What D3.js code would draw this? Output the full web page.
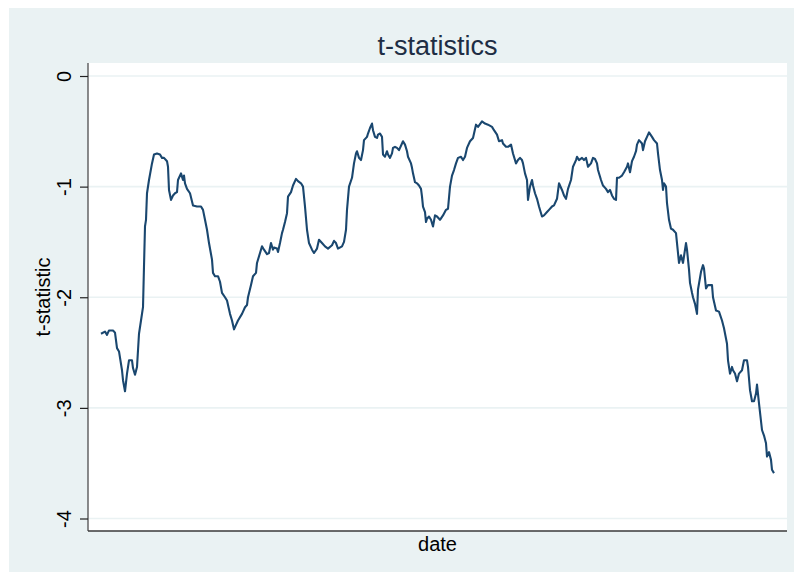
<!DOCTYPE html>
<html>
<head>
<meta charset="utf-8">
<script src="https://cdn.jsdelivr.net/npm/d3@7"></script>
<style>
  html, body { margin: 0; padding: 0; background: #ffffff; }
  svg { display: block; }
  text { font-family: "Liberation Sans", Arial, sans-serif; }
</style>
</head>
<body>
<svg id="chart" width="794" height="572"></svg>
<script>
// ---- data ----
const titleText = "t-statistics";
const xLabel = "date";
const yLabel = "t-statistic";
const yTicks = [0, -1, -2, -3, -4];
const yTickLabels = ["0", "-1", "-2", "-3", "-4"];

// observation index along the date axis
const obs = [
  0,4,6,8,12,14,16,18,21,22,24,26,28,31,32,34,36,38,40,42,43,44,45,46,48,51,53,56,59,61,63,66,67,68,70,72,74,76,77,80,82,83,84,86,89,92,96,100,102,104,106,108,111,112,114,117,119,121,124,126,129,131,133,135,137,141,144,146,147,150,152,155,156,159,161,163,166,168,170,172,173,176,177,179,181,182,184,186,187,190,192,195,197,200,202,204,206,208,211,213,216,218,221,224,227,231,233,235,237,241,243,245,246,248,
  251,253,255,256,258,260,262,263,266,267,269,271,272,274,276,277,279,281,282,284,286,287,289,291,292,294,296,298,301,302,304,306,307,310,311,312,314,316,318,320,321,322,324,325,326,328,330,332,334,336,339,342,345,347,349,351,353,355,357,360,362,364,366,369,372,375,377,381,384,387,391,393,396,398,
  401,402,405,407,410,412,415,417,419,421,422,424,426,427,429,431,432,434,436,438,441,443,446,448,451,453,456,458,461,463,465,467,470,472,475,476,478,481,483,485,487,490,492,494,496,497,500,502,505,507,509,511,513,515,516,518,521,523,526,527,529,531,533,535,536,538,541,542,544,546,548,
  551,553,556,557,559,561,562,563,565,566,568,570,572,575,576,577,578,580,582,583,585,586,588,589,591,592,594,596,597,600,602,603,605,607,611,612,615,618,621,623,626,627,629,631,632,634,636,638,641,643,646,647,649,651,653,655,656,658,661,663,665,666,668,670,671,673
];

// t-statistic values
const tstat = [
  -2.33,-2.31,-2.34,-2.30,-2.30,-2.32,-2.46,-2.49,-2.66,-2.75,-2.85,-2.69,-2.57,-2.57,-2.64,-2.70,-2.63,-2.33,-2.21,-2.09,-1.72,-1.36,-1.30,-1.06,-0.94,-0.79,-0.71,-0.70,-0.71,-0.74,-0.74,-0.77,-0.82,-1.03,-1.12,-1.08,-1.06,-1.05,-0.94,-0.88,-0.94,-0.90,-0.97,-1.02,-1.06,-1.17,-1.18,-1.18,-1.21,-1.30,-1.39,-1.51,-1.66,-1.78,-1.81,-1.81,-1.86,-1.96,-2.00,-2.03,-2.15,-2.21,-2.29,-2.25,-2.21,-2.15,-2.09,-2.07,-2.00,-1.89,-1.81,-1.78,-1.69,-1.60,-1.54,-1.57,-1.61,-1.60,-1.51,-1.57,-1.55,-1.56,-1.59,-1.51,-1.42,-1.39,-1.32,-1.24,-1.09,-1.05,-0.99,-0.93,-0.95,-0.97,-1.00,-1.18,-1.39,-1.51,-1.57,-1.60,-1.56,-1.48,-1.51,-1.54,-1.56,-1.53,-1.49,-1.51,-1.56,-1.54,-1.50,-1.39,-1.21,-1.00,
  -0.92,-0.79,-0.70,-0.68,-0.74,-0.76,-0.67,-0.58,-0.55,-0.52,-0.47,-0.43,-0.49,-0.55,-0.56,-0.53,-0.52,-0.55,-0.71,-0.73,-0.68,-0.71,-0.74,-0.70,-0.65,-0.64,-0.65,-0.67,-0.61,-0.59,-0.62,-0.68,-0.73,-0.79,-0.83,-0.88,-0.96,-0.97,-0.99,-1.02,-1.09,-1.18,-1.23,-1.32,-1.29,-1.27,-1.30,-1.36,-1.26,-1.27,-1.30,-1.26,-1.21,-1.20,-1.00,-0.90,-0.85,-0.79,-0.74,-0.73,-0.76,-0.73,-0.65,-0.59,-0.56,-0.44,-0.46,-0.41,-0.43,-0.44,-0.46,-0.49,-0.53,-0.59,
  -0.58,-0.61,-0.64,-0.64,-0.62,-0.70,-0.79,-0.76,-0.74,-0.76,-0.79,-0.88,-0.94,-1.12,-1.00,-0.94,-0.99,-1.06,-1.11,-1.18,-1.27,-1.26,-1.23,-1.21,-1.18,-1.17,-1.11,-0.97,-1.03,-1.08,-1.11,-1.02,-0.94,-0.82,-0.76,-0.73,-0.76,-0.74,-0.76,-0.74,-0.82,-0.79,-0.74,-0.75,-0.79,-0.85,-0.94,-0.99,-1.02,-1.05,-1.03,-1.08,-1.11,-1.12,-0.92,-0.92,-0.90,-0.87,-0.82,-0.79,-0.87,-0.77,-0.73,-0.68,-0.62,-0.58,-0.61,-0.67,-0.59,-0.55,-0.51,
  -0.55,-0.58,-0.61,-0.70,-0.85,-0.94,-1.03,-0.97,-1.00,-1.15,-1.30,-1.38,-1.39,-1.42,-1.51,-1.60,-1.69,-1.62,-1.69,-1.63,-1.51,-1.57,-1.75,-1.87,-1.96,-2.00,-2.06,-2.15,-1.93,-1.77,-1.71,-1.74,-1.92,-1.89,-1.89,-2.00,-2.12,-2.13,-2.21,-2.28,-2.42,-2.57,-2.69,-2.63,-2.66,-2.69,-2.76,-2.69,-2.66,-2.57,-2.57,-2.63,-2.84,-2.94,-2.94,-2.87,-2.79,-2.96,-3.20,-3.25,-3.32,-3.44,-3.40,-3.47,-3.56,-3.59
];

// ---- layout ----
const W = 794, H = 572;
const bg = { x: 9, y: 8, w: W - 9, h: H - 8 };
const plot = { left: 88, top: 63, right: 787, bottom: 531 };
const bgColor = "#eaf2f3";
const lineColor = "#1a476f";

const svg = d3.select("#chart");

svg.append("rect")
  .attr("x", bg.x).attr("y", bg.y)
  .attr("width", bg.w).attr("height", bg.h)
  .attr("fill", bgColor);

svg.append("rect")
  .attr("x", plot.left).attr("y", plot.top)
  .attr("width", plot.right - plot.left).attr("height", plot.bottom - plot.top)
  .attr("fill", "#ffffff");

const data = obs.map((o, i) => ({ o, v: tstat[i] }));

const x = d3.scaleLinear()
  .domain(d3.extent(obs))
  .range([plot.left + 13, plot.right - 13]);

const y = d3.scaleLinear()
  .domain([-4, 0])
  .range([plot.bottom - 12.5, plot.top + 13]);

// gridlines
svg.append("g")
  .selectAll("line")
  .data(yTicks)
  .join("line")
  .attr("x1", plot.left).attr("x2", plot.right)
  .attr("y1", d => y(d)).attr("y2", d => y(d))
  .attr("stroke", bgColor)
  .attr("stroke-width", 1.6);

// y axis
const yAxis = d3.axisLeft(y)
  .tickValues(yTicks)
  .tickFormat((d, i) => yTickLabels[i])
  .tickSize(8)
  .tickPadding(0);

const gy = svg.append("g")
  .attr("transform", `translate(${plot.left},0)`)
  .call(yAxis);
gy.select(".domain")
  .attr("d", `M0,${plot.top}V${plot.bottom}`)
  .attr("stroke", "#5a5a5a").attr("stroke-width", 1.4);
gy.selectAll(".tick line").attr("stroke", "#222").attr("stroke-width", 1.2);
gy.selectAll(".tick text")
  .attr("transform", "rotate(-90)")
  .attr("x", 0)
  .attr("y", -17)
  .attr("dy", 0)
  .attr("text-anchor", "middle")
  .attr("font-size", 20)
  .attr("font-family", "Liberation Sans, Arial, sans-serif")
  .attr("fill", "#000");

// x axis (no ticks)
const xAxis = d3.axisBottom(x).tickValues([]).tickSizeOuter(0);
const gx = svg.append("g")
  .attr("transform", `translate(0,${plot.bottom})`)
  .call(xAxis);
gx.select(".domain")
  .attr("d", `M${plot.left},0H${plot.right}`)
  .attr("stroke", "#3a3a3a").attr("stroke-width", 1.4);

// line
const line = d3.line()
  .x(d => x(d.o))
  .y(d => y(d.v));

svg.append("path")
  .datum(data)
  .attr("d", line)
  .attr("fill", "none")
  .attr("stroke", lineColor)
  .attr("stroke-width", 2.1)
  .attr("stroke-linejoin", "round");

// title
svg.append("text")
  .attr("x", (plot.left + plot.right) / 2)
  .attr("y", 55)
  .attr("text-anchor", "middle")
  .attr("font-size", 27)
  .attr("fill", "#1e2d44")
  .text(titleText);

// x label
svg.append("text")
  .attr("x", (plot.left + plot.right) / 2)
  .attr("y", 551)
  .attr("text-anchor", "middle")
  .attr("font-size", 20)
  .attr("fill", "#000")
  .text(xLabel);

// y label
svg.append("text")
  .attr("transform", `translate(50,${(plot.top + plot.bottom) / 2}) rotate(-90)`)
  .attr("text-anchor", "middle")
  .attr("font-size", 20)
  .attr("fill", "#000")
  .text(yLabel);
</script>
</body>
</html>
